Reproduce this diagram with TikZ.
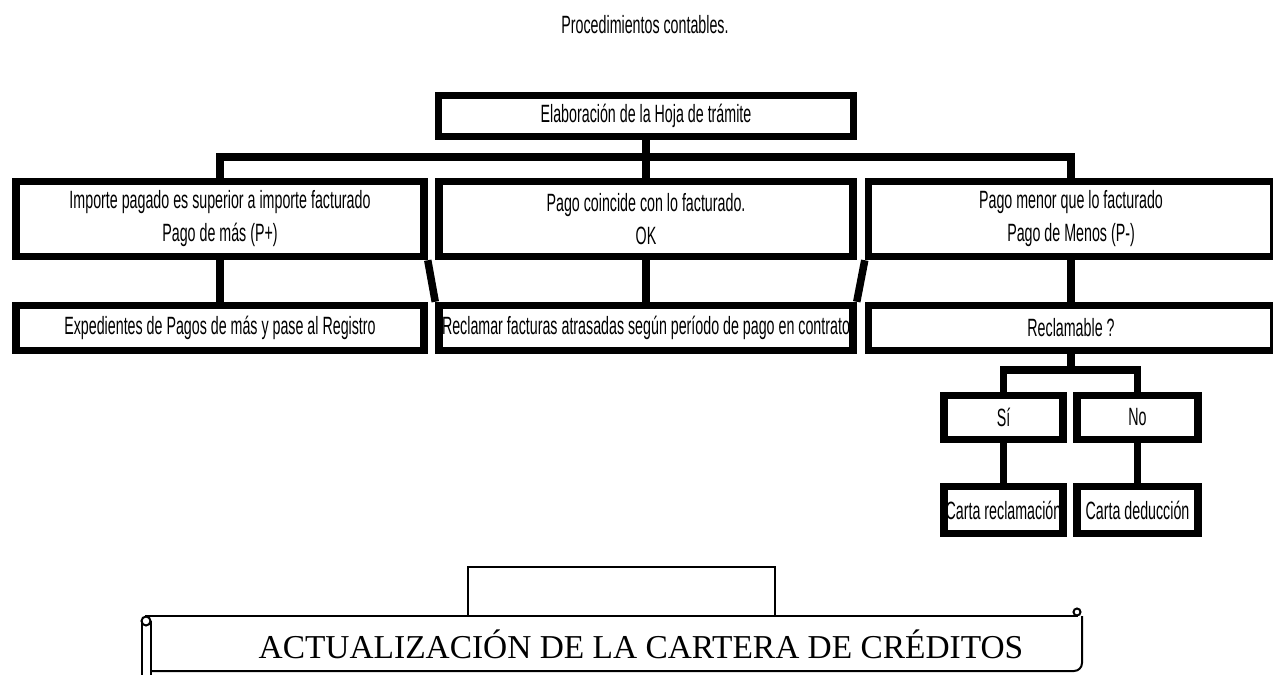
\documentclass[tikz,border=0pt]{standalone}
\usepackage{fontspec}
\setmainfont{Liberation Sans}[FakeStretch=0.57]
\newfontfamily\scrollfont{Liberation Serif}
\begin{document}
\begin{tikzpicture}[x=1pt,y=-1pt,
  box/.style={draw=black,line width=7.5pt,fill=white,rectangle,inner sep=0pt,align=center,
    font=\fontsize{25}{33}\selectfont},
  conn/.style={draw=black,line width=7.5pt},
  thin/.style={draw=black,line width=1.6pt},
  scr/.style={draw=black,line width=2pt},
  lbl/.style={inner sep=0pt,font=\fontsize{25}{33}\selectfont}]
\useasboundingbox (0,0) rectangle (1273,674);
\clip (0,0) rectangle (1273,674);

\node[lbl] (title) at (645,25) {Procedimientos contables.};

\node[box,minimum width=415pt,minimum height=41pt] (top) at (646,116) {Elaboración de la Hoja de trámite};

\node[box,minimum width=408pt,minimum height=75pt] (L1) at (220,219) {Importe pagado es superior a importe facturado\\Pago de más (P+)};
\node[box,minimum width=414pt,minimum height=75pt] (M1) at (646,219) {Pago coincide con lo facturado.\\OK};
\node[box,minimum width=405pt,minimum height=75pt] (R1) at (1071,219) {Pago menor que lo facturado\\Pago de Menos (P-)};

\node[box,minimum width=408pt,minimum height=45pt] (L2) at (220,328) {Expedientes de Pagos de más y pase al Registro};
\node[box,minimum width=414pt,minimum height=45pt] (M2) at (646,328) {Reclamar facturas atrasadas según período de pago en contrato};
\node[box,minimum width=405pt,minimum height=45pt] (R2) at (1071,328) {Reclamable ?};

\node[box,minimum width=119pt,minimum height=44pt] (SI) at (1003.5,417.5) {Sí};
\node[box,minimum width=121pt,minimum height=44pt] (NO) at (1137.5,417.5) {No};
\node[box,minimum width=119pt,minimum height=47pt] (CR) at (1003.5,510) {Carta reclamación};
\node[box,minimum width=121pt,minimum height=47pt] (CD) at (1137.5,510) {Carta deducción};

\coordinate (bus) at (0,157);
\coordinate (sub) at (0,370);

% connectors
\draw[conn] (L1.north) -- (L1.north |- bus) -- (R1.north |- bus) -- (R1.north);
\draw[conn] (top.south) -- (M1.north);
\draw[conn] (L1.south) -- (L2.north);
\draw[conn] (M1.south) -- (M2.north);
\draw[conn] (R1.south) -- (R2.north);
\draw[conn] (L1.south east) -- (M2.north west);
\draw[conn] (R1.south west) -- (M2.north east);
\draw[conn] (R2.south) -- (R2.south |- sub);
\draw[conn] (SI.north) -- (SI.north |- sub) -- (NO.north |- sub) -- (NO.north);
\draw[conn] (SI.south) -- (CR.north);
\draw[conn] (NO.south) -- (CD.north);

% scroll
\draw[thin] (468,615.5) -- (468,567) -- (775,567) -- (775,615.5);
\draw[scr] (145,615.5) -- (1078,615.5);
\draw[scr] (146,621) circle (4.5);
\draw[scr] (141.5,621) -- (141.5,680);
\draw[scr] (150.5,621) -- (150.5,680);
\draw[scr] (150.5,671) -- (1074,671) to[out=0,in=-90] (1082,663) -- (1082,616);
\draw[scr] (1077,612) circle (3.5);
\node[inner sep=0pt,font=\scrollfont\fontsize{33.4}{36}\selectfont] (scrolltext) at (641,644) {ACTUALIZACIÓN DE LA CARTERA DE CRÉDITOS};
\end{tikzpicture}
\end{document}
